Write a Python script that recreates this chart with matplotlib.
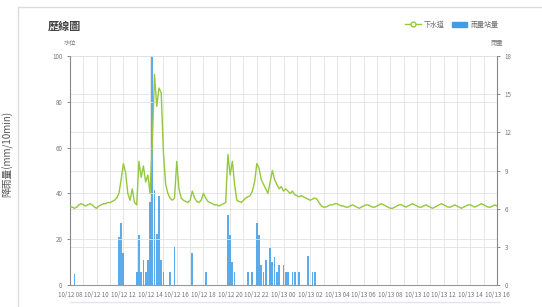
import matplotlib
matplotlib.use("Agg")
import matplotlib.pyplot as plt
from matplotlib.lines import Line2D
from matplotlib.patches import Patch, Rectangle

plt.rcParams['font.family'] = ['Noto Sans CJK TC', 'DejaVu Sans']
plt.rcParams['axes.unicode_minus'] = False

# 10-minute samples, 10/12 08:00 -> 10/13 16:00
water_level = [
    34.5, 34, 33.5, 34, 35, 35.5, 35, 34.5, 35, 35.5,
    35, 34, 33.5, 34.5, 35, 35.5, 35.5, 36, 36, 36.5,
    37, 38, 40, 46, 53, 49, 40, 37, 42, 36,
    35, 54, 47, 52, 45, 48, 40, 62, 92, 78,
    86, 84, 58, 44, 40, 38, 37, 38, 54, 42,
    38, 37, 36.5, 36, 37, 41, 38, 36.5, 36, 37,
    40, 38, 36.5, 36, 35.5, 35, 35, 34.5, 35, 35.5,
    36, 57, 48, 54, 44, 37, 36.5, 36, 37, 38,
    38.5, 39, 41, 45, 53, 51, 46, 44, 42, 40,
    45, 50, 46, 44, 42, 43, 41, 42, 41, 40,
    41, 39.5, 39, 38.5, 39, 38.5, 38, 37.5, 37, 37.5,
    38, 37.5, 36, 34.5, 34, 34, 34.5, 35, 35, 35.5,
    35.5, 35, 34.5, 34.5, 34, 34, 34.5, 35, 34.5, 34,
    33.5, 34, 34.5, 35, 35, 34.5, 34, 34, 34.5, 35,
    35.5, 35, 34.5, 34, 33.5, 33.5, 34, 34.5, 35, 35,
    34.5, 34, 34.5, 35, 35.5, 35, 34.5, 34, 34, 34.5,
    35, 34.5, 34, 33.5, 34, 34.5, 35, 35.5, 35, 34.5,
    34, 34, 34.5, 35, 34.5, 34, 33.5, 34, 34.5, 35,
    35, 34.5, 34, 34.5, 35, 35.5, 35, 34.5, 34, 34,
    34.5, 35, 34.5,
]

# rainfall per 10 min (sample index, mm)
rain_idx = [2, 22, 23, 24, 30, 31, 32, 33, 34, 35, 36, 37, 38, 39, 40, 41, 42,
            45, 47, 55, 61, 71, 72, 73, 74, 80, 82, 84, 85, 86, 87, 88, 90, 91,
            92, 93, 94, 96, 97, 98, 100, 101, 103, 107, 109, 110]
rain_val = [0.9, 3.8, 4.9, 2.5, 1.0, 3.9, 1.0, 2.0, 1.0, 2.0, 6.5, 18, 7.5, 4.0, 7.0, 2.0, 1.0,
            1.0, 3.0, 2.5, 1.0, 5.5, 3.9, 1.8, 1.0, 1.0, 1.0, 4.9, 3.9, 1.6, 1.0, 2.0, 2.9, 1.8,
            2.2, 1.0, 1.6, 1.6, 1.0, 1.0, 1.0, 1.0, 1.0, 2.3, 1.0, 1.0]

hour_ticks = list(range(0, 193, 6))
label_ticks = list(range(0, 193, 12))
tick_labels = ['10/12 08', '10/12 10', '10/12 12', '10/12 14', '10/12 16', '10/12 18',
               '10/12 20', '10/12 22', '10/13 00', '10/13 02', '10/13 04', '10/13 06',
               '10/13 08', '10/13 10', '10/13 12', '10/13 14', '10/13 16']

fig = plt.figure(figsize=(5.42, 3.07), dpi=100)
ax = fig.add_axes([70 / 542, 1 - 285 / 307, 427 / 542, 229 / 307])
ax2 = ax.twinx()

# card frame + bottom slider edge
fig.add_artist(Rectangle((18 / 542, -0.1), 0.99, 1.077, transform=fig.transFigure,
                         fill=False, ec='#dcdcdc', lw=1))
fig.add_artist(Line2D([70 / 542, 500 / 542], [1 - 302 / 307] * 2,
                      transform=fig.transFigure, color='#dde7f3', lw=1))

grid_c = '#e2e2e2'
ax.set_xlim(0, 192)
ax.set_xticks(hour_ticks, minor=True)
ax.set_xticks(label_ticks)
ax.set_xticklabels(tick_labels)

# rain bars on the right axis, with the vertical grid behind them
ax2.xaxis.set_visible(True)
ax2.tick_params(axis='x', which='both', labelbottom=False, length=0)
ax2.bar(rain_idx, rain_val, width=0.8, color='#3f9de8', alpha=0.85, zorder=3)
ax2.set_ylim(0, 18)
ax2.set_yticks([0, 3, 6, 9, 12, 15, 18])
ax2.grid(axis='y', color=grid_c, lw=0.6)
ax2.grid(axis='x', which='both', color=grid_c, lw=0.6)
ax2.set_axisbelow(True)

ax.set_zorder(ax2.get_zorder() + 1)
ax.patch.set_visible(False)
ax.plot(range(len(water_level)), water_level, color='#94c83d', lw=1.0, zorder=4)
ax.set_ylim(0, 100)
ax.set_yticks([0, 20, 40, 60, 80, 100])
ax.grid(axis='y', color=grid_c, lw=0.6)
ax.set_axisbelow(True)

for a in (ax, ax2):
    a.spines['top'].set_visible(False)
    a.tick_params(axis='y', labelsize=4.5, colors='#777777', length=2, width=0.6)
for a, side in ((ax, 'left'), (ax2, 'right')):
    a.spines[side].set_color('#888888')
    a.spines[side].set_linewidth(0.8)
ax.spines['right'].set_visible(False)
ax2.spines['left'].set_visible(False)
ax.spines['bottom'].set_color('#999999')
ax2.spines['bottom'].set_visible(False)
ax.tick_params(axis='x', which='both', pad=4.5, length=0, labelsize=4.5,
               colors='#777777')

fig.text(48 / 542, 1 - 26 / 307, '歷線圖', fontsize=8, fontweight='bold',
         color='#444444', va='center')
fig.text(70 / 542, 1 - 43 / 307, '水位', fontsize=4.5, color='#777777',
         ha='center', va='center')
fig.text(497 / 542, 1 - 43 / 307, '雨量', fontsize=4.5, color='#777777',
         ha='center', va='center')
fig.text(8 / 542, 0.5, '降雨量(mm/10min)', fontsize=7, color='#555555',
         rotation=90, ha='center', va='center')

handles = [Line2D([], [], color='#94c83d', lw=1, marker='o', ms=3.5,
                  mfc='white', mec='#94c83d'),
           Patch(color='#3f9de8')]
fig.legend(handles, ['下水道', '雨量站量'], loc='center right',
           bbox_to_anchor=(505 / 542, 1 - 25 / 307), ncol=2, frameon=False,
           fontsize=5, handlelength=2.2, handleheight=0.8, columnspacing=1.0,
           handletextpad=0.5, labelcolor='#666666')

fig.savefig('out.png', dpi=100)
